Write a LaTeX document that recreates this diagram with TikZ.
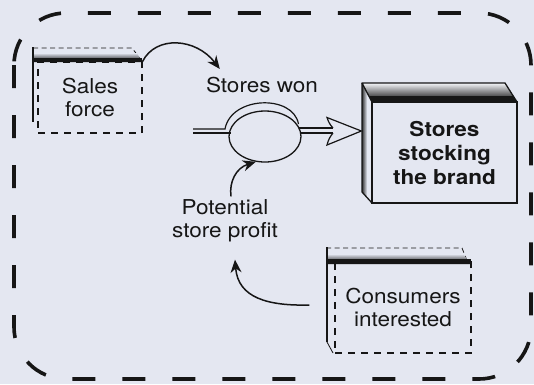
\documentclass[tikz,border=0pt]{standalone}
\usepackage{fontspec}
\setmainfont{TeX Gyre Heros}[FakeStretch=1.1]
\usetikzlibrary{arrows.meta,shapes.geometric,calc}
\definecolor{paper}{RGB}{228,231,241}
\definecolor{ink}{RGB}{22,22,22}
\tikzset{
  lbl/.style={text=ink, align=center, font=\fontsize{20.5}{23.5}\selectfont, inner sep=0pt},
  dashface/.style={draw=ink, line width=1.1pt, dash pattern=on 7pt off 6pt, inner sep=0pt, lbl},
  solidface/.style={draw=ink, line width=1.3pt, inner sep=0pt, lbl, font=\fontsize{20.5}{24}\selectfont\bfseries},
  backedge/.style={draw=ink, line width=0.8pt, dash pattern=on 5pt off 3.5pt},
  thickedge/.style={draw=ink, line width=2.6pt},
  conn/.style={draw=ink, line width=1.5pt, -{Stealth[length=13pt,width=11pt]}},
  pipe/.style={draw=ink, line width=1.2pt},
  frame/.style={draw=ink, line width=3.6pt, dash pattern=on 23pt off 27pt, rounded corners=52pt}
}
\begin{document}
\begin{tikzpicture}[x=1pt,y=-1pt]
\fill[paper] (0,0) rectangle (534,384);
\useasboundingbox (0,0) rectangle (534,384);

% outer dashed frame
\draw[frame] (14,13) rectangle (531,379);

% ---- Sales force box
\node[dashface, minimum width=104pt, minimum height=71pt] (sales) at (90,97.5) {Sales\\force};
\draw[backedge] (33,48) -- (132,48) -- (142,61);
\shade[top color=paper, middle color=black!85, bottom color=black] (33,53) -- (137,53) -- (142,62) -- (33,62) -- cycle;
\fill[ink] (33,57.5) rectangle (142,62);
\draw[thickedge] (33,47) -- (33,122);

% ---- Consumers box
\node[dashface, minimum width=136pt, minimum height=91pt] (cons) at (403,307.5) {Consumers\\interested};
\draw[backedge] (326,248) -- (462,248) -- (468,263);
\shade[top color=paper, middle color=black!85, bottom color=black] (328,254) -- (463,254) -- (471,264) -- (328,264) -- cycle;
\fill[ink] (328,259) rectangle (471,264);
\draw[thickedge] (327,247) -- (327,342);
\draw[ink, line width=0.8pt] (327,342) -- (333,353);

% ---- Stores stocking the brand (3D box)
\shade[top color=white!60!paper, middle color=black!80, bottom color=black] (362,83) -- (505,83) -- (517,102) -- (372,102) -- cycle;
\fill[ink] (369,96) -- (513,96) -- (517,102) -- (372,102) -- cycle;
\shade[left color=black!80, right color=paper] (362,84) -- (367,91) -- (367,197) -- (362,192) -- cycle;
\draw[ink, line width=1.3pt, line join=round] (372,102) -- (362,83) -- (505,83) -- (517,102);
\draw[ink, line width=1.3pt] (362,83) -- (362,192) -- (372,203);
\node[solidface, minimum width=145pt, minimum height=101pt] (stores) at (444.5,152.5) {Stores\\stocking\\the brand};

% ---- texts
\node[lbl] (won) at (262,85) {Stores won};
\node[lbl] (profit) at (225,221) {Potential\\store profit};

% ---- pipe and valve
\coordinate (pipein) at (193,131);
\draw[pipe] ($(pipein)+(0,-2)$) -- (225,129) .. controls (231,96) and (293,94) .. (298.5,124);
\draw[pipe] ($(pipein)+(0,2)$) -- (231,133);
\node[draw=ink, line width=1.3pt, ellipse, minimum width=72pt, minimum height=51pt, inner sep=0pt] (valve) at (265,136.5) {};
\draw[pipe] ($(valve.east)+(-2.4,-8.5)$) -- (333,128);
\draw[pipe] ($(valve.east)+(-0.5,-3.5)$) -- (333,133);
\draw[pipe, line join=miter] (333,128) to[bend left=12] (327,117.5) -- ($(stores.west)+(-10,-21.5)$) -- (327,145) to[bend left=12] (333,133);

% ---- connectors
\draw[conn] (sales.north east) .. controls (156,35) and (196,38) .. ($(won.north west)+(14,-8)$);
\draw[conn] ($(profit.north)+(6,-3)$) .. controls (229,182) and (236,168) .. (valve.250);
\draw[conn] ($(cons.west)+(-25,-2.5)$) .. controls (268,306) and (238,298) .. ($(profit.south)+(10,17)$);
\end{tikzpicture}
\end{document}
